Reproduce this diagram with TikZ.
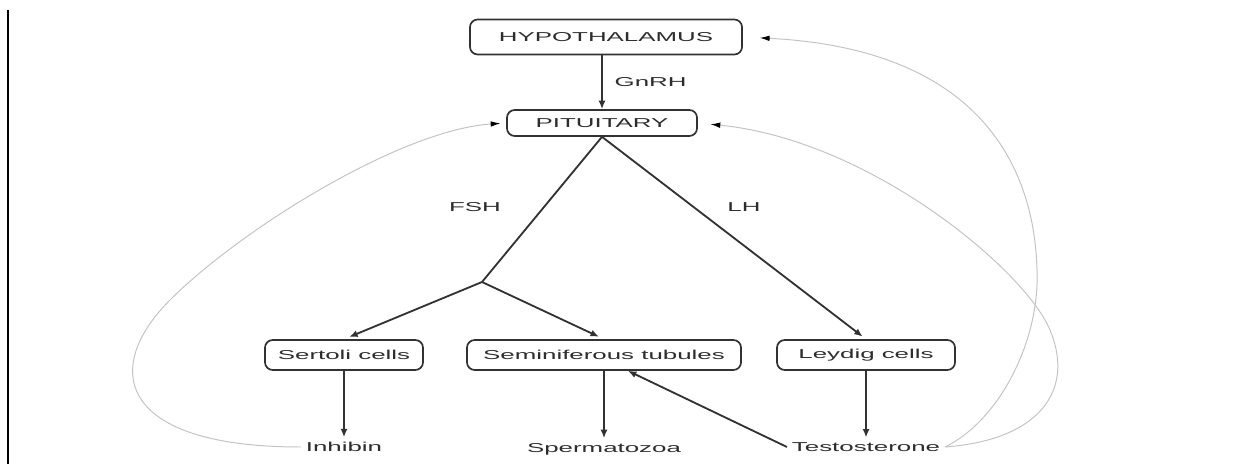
\documentclass[tikz,border=0pt]{standalone}
\usepackage{fontspec}
\usepackage{xcolor}
\usepackage{tikz}
\usetikzlibrary{arrows.meta, positioning, calc}
\newfontfamily\diagfont[FakeStretch=2.0]{Liberation Sans}
\definecolor{boxline}{RGB}{50,50,50}
\definecolor{txtgray}{RGB}{45,45,45}
\definecolor{fbgray}{RGB}{195,195,195}
\tikzset{
  organ/.style={rectangle, draw=boxline, rounded corners=5.5pt,
    line width=1.2pt, minimum height=0.75cm,
    font=\diagfont\fontsize{9.2}{11}\selectfont, text=txtgray},
  lbl/.style={font=\diagfont\fontsize{9.2}{11}\selectfont, text=txtgray},
  arrow/.style={-{Latex[length=6pt,width=5pt]}, line width=1.3pt, color=boxline},
  line/.style={line width=1.3pt, color=boxline},
  fbarrow/.style={-{Latex[length=7pt,width=4pt,color=black]}, line width=0.7pt, color=fbgray}
}

\begin{document}
\begin{tikzpicture}[x=0.025cm, y=-0.025cm]
  \useasboundingbox (0,0) rectangle (1233,464);
  % frame edge on the left
  \draw[line width=1.4pt] (8,10) -- (8,464);

  % Glands
  \node[organ, minimum width=6.8cm, minimum height=0.875cm] (hyp) at (606,37) {HYPOTHALAMUS};
  \node[organ, minimum width=4.75cm, minimum height=0.65cm] (pit) at (602,123) {PITUITARY};

  % Cells in the testis
  \node[organ, minimum width=3.95cm] (ser) at (344,355) {Sertoli cells};
  \node[organ, minimum width=6.85cm] (sem) at (604,355) {Seminiferous tubules};
  \node[organ, minimum width=4.45cm] (ley) at (866,355) {Leydig cells};

  % Products
  \node[lbl] (inh) at (344,447) {Inhibin};
  \node[lbl] (spz) at (604,449) {Spermatozoa};
  \node[lbl] (tes) at (866,447) {Testosterone};

  % Hormone labels
  \node[lbl] (fsh) at (475,207) {FSH};
  \node[lbl] (lh) at (744,207) {LH};
  \coordinate (brn) at (482,282);

  % Stimulation
  \draw[arrow] (pit.north |- hyp.south) -- (pit.north)
    node[midway, right=5pt, lbl] {GnRH};
  \draw[line] (pit.south) -- (brn);
  \draw[arrow, shorten >=4pt] (brn) -- (ser.north);
  \draw[arrow, shorten >=4pt] (brn) -- (sem.north);
  \draw[arrow, shorten >=3pt] (pit.south) -- (ley.north);
  \draw[arrow] (ser) -- (inh);
  \draw[arrow] (sem) -- (spz);
  \draw[arrow] (ley) -- (tes);
  \draw[arrow] (tes.west) -- ([xshift=0.6cm]sem.south);

  % Feedback loops
  \draw[fbarrow, shorten >=4pt] (inh.west) .. controls (120,447) and (100,370) .. (170,300)
    .. controls (240,230) and (400,130) .. (pit.west);
  \draw[fbarrow, shorten >=9pt] (tes.east) .. controls (1040,440) and (1075,390) .. (1050,330)
    .. controls (1025,270) and (870,140) .. (pit.east);
  \draw[fbarrow, shorten >=12pt] (tes.east) .. controls (1000,420) and (1040,340) .. (1037,270)
    .. controls (1035,190) and (1000,50) .. (hyp.east);
\end{tikzpicture}
\end{document}
